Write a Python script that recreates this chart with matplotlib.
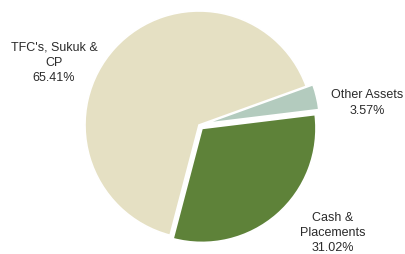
import matplotlib.pyplot as plt

plt.rcParams['font.family'] = ['Liberation Sans', 'DejaVu Sans']

labels = ["Cash &\nPlacements", "Other Assets", "TFC's, Sukuk &\nCP"]
values = [31.02, 3.57, 65.41]
colors = ["#5E8239", "#B3CBBE", "#E5E0C3"]
explode = [0.04, 0.06, 0.0]

# label spots in pixels (x, y from top), converted below
label_px = [(333, 233), (367, 103), (54, 63)]

W, H = 406, 254
cx, cy, r = 199, 125, 114

fig = plt.figure(figsize=(W / 100, H / 100), dpi=100)
ax = fig.add_axes([(cx - r) / W, (H - cy - r) / H, 2 * r / W, 2 * r / H])

ax.pie(values, colors=colors, explode=explode, startangle=-104.7,
       counterclock=True, radius=1.0,
       wedgeprops=dict(edgecolor="white", linewidth=1.2))
ax.set_xlim(-1, 1)
ax.set_ylim(-1, 1)
ax.set_aspect("equal")
ax.axis("off")

for lab, val, (px, py) in zip(labels, values, label_px):
    ax.text((px - cx) / r, (cy - py) / r, f"{lab}\n{val:.2f}%",
            ha="center", va="center", fontsize=9, color="#2b2b2b",
            linespacing=1.38, clip_on=False)

fig.savefig("out.png", dpi=100)
